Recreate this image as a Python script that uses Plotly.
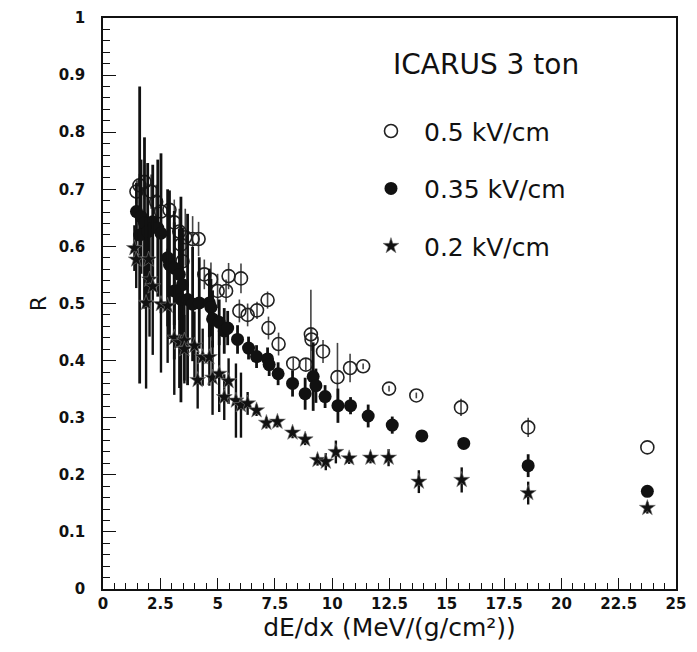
import plotly.graph_objects as go

# 0.5 kV/cm (open circles)
x_05 = [1.46, 1.59, 1.81, 2.10, 2.32, 2.53, 2.90, 3.11, 3.33, 3.59, 3.91, 4.17, 3.40, 3.47,
        4.42, 4.71, 5.00, 5.37, 5.48, 6.02, 5.95, 6.31, 6.72, 7.18, 7.22, 7.66, 8.30, 8.85,
        9.07, 9.10, 9.60, 10.23, 10.78, 11.35, 12.48, 13.67, 15.62, 18.55, 23.75]
y_05 = [0.696, 0.707, 0.713, 0.696, 0.678, 0.661, 0.664, 0.642, 0.626, 0.616, 0.613, 0.613, 0.603, 0.574,
        0.551, 0.542, 0.522, 0.522, 0.548, 0.544, 0.487, 0.480, 0.488, 0.506, 0.457, 0.429, 0.395, 0.393,
        0.446, 0.437, 0.416, 0.371, 0.387, 0.390, 0.351, 0.339, 0.318, 0.283, 0.248]
e_05 = [0.02, 0.02, 0.03, 0.03, 0.03, 0.04, 0.03, 0.04, 0.04, 0.05, 0.04, 0.03, 0.04, 0.05,
        0.026, 0.03, 0.03, 0.02, 0.023, 0.026, 0.02, 0.02, 0.015, 0.015, 0.02, 0.02, 0.01, 0.01,
        0.078, 0.02, 0.02, 0.06, 0.025, 0.005, 0.005, 0.005, 0.015, 0.017, 0.0]

# 0.35 kV/cm (filled circles)
x_035 = [1.46, 1.60, 1.66, 1.81, 1.95, 2.17, 2.39, 2.53, 2.82, 2.90, 3.11, 3.33, 3.47, 3.11, 3.40,
         3.69, 3.91, 4.20, 4.64, 4.71, 4.78, 5.07, 5.29, 5.44, 5.87, 6.35, 6.70, 7.18, 7.25, 7.64,
         8.27, 8.82, 9.17, 9.29, 9.69, 10.25, 10.80, 11.57, 12.62, 13.91, 15.74, 18.55, 23.75]
y_035 = [0.661, 0.620, 0.652, 0.641, 0.626, 0.643, 0.632, 0.623, 0.580, 0.568, 0.562, 0.551, 0.533, 0.522, 0.507,
         0.507, 0.499, 0.501, 0.501, 0.493, 0.473, 0.467, 0.452, 0.457, 0.437, 0.422, 0.407, 0.403, 0.393, 0.377,
         0.360, 0.342, 0.372, 0.356, 0.337, 0.321, 0.321, 0.303, 0.287, 0.268, 0.255, 0.216, 0.171]
e_035 = [0.05, 0.26, 0.10, 0.15, 0.12, 0.10, 0.12, 0.14, 0.12, 0.13, 0.10, 0.08, 0.10, 0.12, 0.18,
         0.15, 0.10, 0.08, 0.06, 0.05, 0.05, 0.04, 0.04, 0.03, 0.025, 0.02, 0.02, 0.02, 0.02, 0.02,
         0.023, 0.028, 0.06, 0.03, 0.02, 0.03, 0.015, 0.02, 0.015, 0.01, 0.008, 0.02, 0.0]

# 0.2 kV/cm (stars)
x_02 = [1.37, 1.45, 1.99, 2.03, 2.17, 1.88, 2.53, 2.82, 3.11, 3.33, 3.55, 3.55, 3.99, 4.35, 4.64,
        4.13, 4.78, 5.07, 5.48, 5.29, 5.80, 6.02, 6.31, 6.70, 7.13, 7.61, 8.27, 8.82, 9.36, 9.72,
        10.16, 10.74, 11.67, 12.46, 13.78, 15.65, 18.55, 23.75]
y_02 = [0.597, 0.577, 0.577, 0.542, 0.530, 0.501, 0.499, 0.496, 0.440, 0.432, 0.435, 0.420, 0.426, 0.406, 0.406,
        0.366, 0.370, 0.377, 0.364, 0.336, 0.330, 0.322, 0.325, 0.313, 0.291, 0.293, 0.274, 0.262, 0.226, 0.223,
        0.240, 0.229, 0.230, 0.230, 0.188, 0.191, 0.168, 0.142]
e_02 = [0.04, 0.05, 0.06, 0.10, 0.12, 0.15, 0.12, 0.10, 0.10, 0.08, 0.07, 0.06, 0.06, 0.05, 0.05,
        0.05, 0.065, 0.067, 0.04, 0.04, 0.065, 0.057, 0.02, 0.01, 0.01, 0.01, 0.01, 0.01, 0.01, 0.015,
        0.02, 0.01, 0.01, 0.015, 0.02, 0.022, 0.02, 0.01]

FONT = "DejaVu Sans, sans-serif"
INK = "#111111"

fig = go.Figure()

fig.add_trace(go.Scatter(
    x=x_05, y=y_05, mode="markers", name="0.5 kV/cm", legendgroup="a",
    marker=dict(symbol="circle-open", size=13, color="#222222", line=dict(width=1.6)),
    error_y=dict(type="data", array=e_05, visible=True, thickness=1.6, width=0, color="#444444"),
))
fig.add_trace(go.Scatter(
    x=x_035, y=y_035, mode="markers", name="0.35 kV/cm", legendgroup="b",
    marker=dict(symbol="circle", size=13, color=INK),
    error_y=dict(type="data", array=e_035, visible=True, thickness=2.8, width=0, color=INK),
))
fig.add_trace(go.Scatter(
    x=x_02, y=y_02, mode="markers", name="0.2 kV/cm", legendgroup="c",
    marker=dict(symbol="star", size=12, color=INK, line=dict(width=0.6, color="#777777")),
    error_y=dict(type="data", array=e_02, visible=True, thickness=2.4, width=0, color=INK),
))

# title of the legend box
fig.add_annotation(
    text="ICARUS 3 ton", x=0.668, y=0.918, xref="paper", yref="paper",
    xanchor="center", yanchor="middle",
    showarrow=False, font=dict(family=FONT, size=28, color=INK),
)

axis_common = dict(
    showline=True, linecolor=INK, linewidth=1.5, mirror=True,
    ticks="inside", tickcolor=INK, tickwidth=1.3,
    showgrid=False, zeroline=False, automargin=False,
    tickfont=dict(family=FONT, size=15, color=INK, weight="bold"),
)

fig.update_xaxes(
    range=[0, 25], dtick=2.5, ticklen=11,
    minor=dict(ticks="inside", dtick=0.5, ticklen=6, tickcolor=INK, tickwidth=1),
    title=dict(text="dE/dx (MeV/(g/cm²))", font=dict(family=FONT, size=25, color=INK), standoff=6),
    **axis_common,
)
fig.update_yaxes(
    range=[0, 1], dtick=0.1, ticklen=13,
    minor=dict(ticks="inside", dtick=0.02, ticklen=7, tickcolor=INK, tickwidth=1),
    title=dict(text="R", font=dict(family=FONT, size=22, color=INK), standoff=6),
    ticklabelstandoff=13,
    **axis_common,
)

fig.update_layout(
    width=689, height=644,
    margin=dict(l=95, r=21, t=10, b=63),
    plot_bgcolor="white", paper_bgcolor="white",
    font=dict(family=FONT, color=INK),
    showlegend=True,
    legend=dict(
        x=0.445, y=0.842, xanchor="left", yanchor="top",
        font=dict(family=FONT, size=25, color=INK),
        tracegroupgap=22, itemwidth=56, bgcolor="rgba(0,0,0,0)",
    ),
)

fig.write_html("out.html")
